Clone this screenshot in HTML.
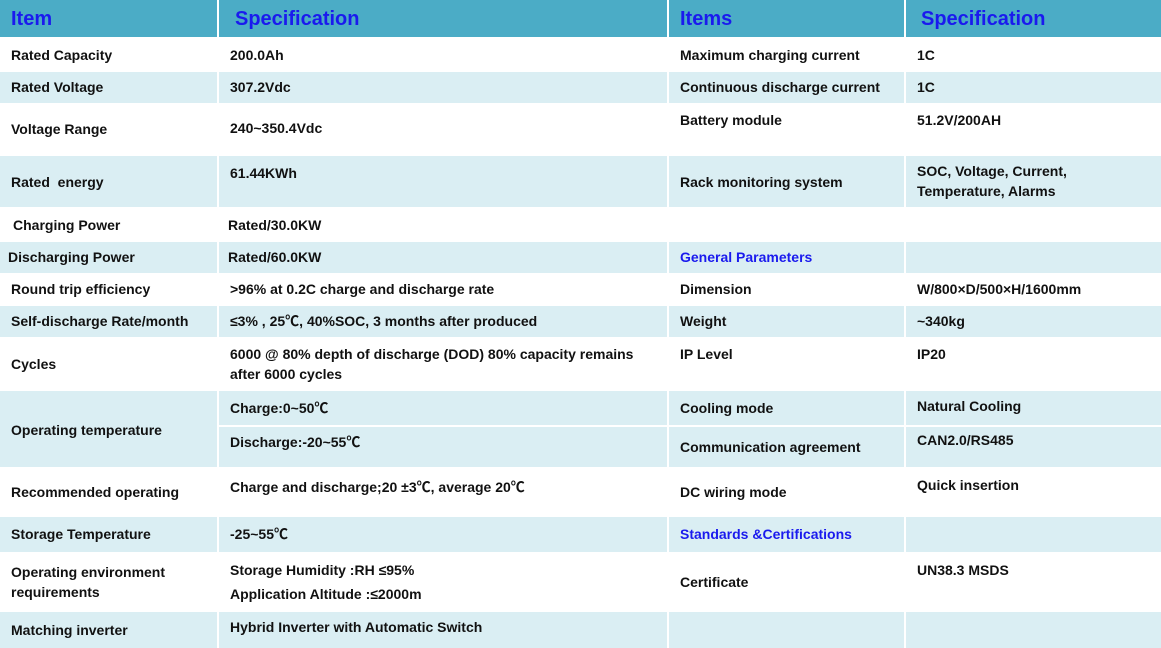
<!DOCTYPE html><html><head><meta charset="utf-8"><style>
body{margin:0;width:1161px;height:648px;background:#fff;position:relative;overflow:hidden;font-family:"Liberation Sans","Noto Sans CJK SC",sans-serif}
.r{position:absolute}
.t{position:absolute;font-weight:bold;font-size:14px;color:#111;white-space:nowrap;line-height:16px}
.h{position:absolute;font-weight:bold;font-size:20px;color:#1a1aee;line-height:24px}
.b{color:#1a1aee}
</style></head><body>
<div id="bg"></div>
<script>
var cols=[[0,217],[219,448],[669,235],[906,255]];
var rows=[[0,37,'#4bacc6'],[38,33,'#fff'],[72,31,'#daeef3'],[104,51,'#fff'],[156,51,'#daeef3'],[208,33,'#fff'],[242,31,'#daeef3'],[274,31,'#fff'],[306,31,'#daeef3'],[338,52,'#fff'],[391,76,'#daeef3'],[468,48,'#fff'],[517,35,'#daeef3'],[553,58,'#fff'],[612,36,'#daeef3']];
var h='';
rows.forEach(function(r,i){cols.forEach(function(c,j){
 if(i==10&&j>0){h+='<div class="r" style="left:'+c[0]+'px;top:391px;width:'+c[1]+'px;height:34px;background:#daeef3"></div><div class="r" style="left:'+c[0]+'px;top:427px;width:'+c[1]+'px;height:40px;background:#daeef3"></div>';}
 else h+='<div class="r" style="left:'+c[0]+'px;top:'+r[0]+'px;width:'+c[1]+'px;height:'+r[1]+'px;background:'+r[2]+'"></div>';});});
document.getElementById('bg').innerHTML=h;
</script>
<div class="h" style="left:11px;top:7px">Item</div>
<div class="h" style="left:235px;top:7px">Specification</div>
<div class="h" style="left:680px;top:7px">Items</div>
<div class="h" style="left:921px;top:7px">Specification</div>

<div class="t" style="left:11px;top:47px">Rated Capacity</div>
<div class="t" style="left:230px;top:47px">200.0Ah</div>
<div class="t" style="left:680px;top:47px">Maximum charging current</div>
<div class="t" style="left:917px;top:47px">1C</div>

<div class="t" style="left:11px;top:79px">Rated Voltage</div>
<div class="t" style="left:230px;top:79px">307.2Vdc</div>
<div class="t" style="left:680px;top:79px">Continuous discharge current</div>
<div class="t" style="left:917px;top:79px">1C</div>

<div class="t" style="left:11px;top:121px">Voltage Range</div>
<div class="t" style="left:230px;top:120px">240~350.4Vdc</div>
<div class="t" style="left:680px;top:112px">Battery module</div>
<div class="t" style="left:917px;top:112px">51.2V/200AH</div>

<div class="t" style="left:11px;top:174px">Rated&nbsp; energy</div>
<div class="t" style="left:230px;top:165px">61.44KWh</div>
<div class="t" style="left:680px;top:174px">Rack monitoring system</div>
<div class="t" style="left:917px;top:163px">SOC, Voltage, Current,</div>
<div class="t" style="left:917px;top:183px">Temperature, Alarms</div>

<div class="t" style="left:13px;top:217px">Charging Power</div>
<div class="t" style="left:228px;top:217px">Rated/30.0KW</div>

<div class="t" style="left:8px;top:249px">Discharging Power</div>
<div class="t" style="left:228px;top:249px">Rated/60.0KW</div>
<div class="t b" style="left:680px;top:249px">General Parameters</div>

<div class="t" style="left:11px;top:281px">Round trip efficiency</div>
<div class="t" style="left:230px;top:281px">&gt;96% at 0.2C charge and discharge rate</div>
<div class="t" style="left:680px;top:281px">Dimension</div>
<div class="t" style="left:917px;top:281px">W/800×D/500×H/1600mm</div>

<div class="t" style="left:11px;top:313px">Self-discharge Rate/month</div>
<div class="t" style="left:230px;top:313px">≤3% , 25℃, 40%SOC, 3 months after produced</div>
<div class="t" style="left:680px;top:313px">Weight</div>
<div class="t" style="left:917px;top:313px">~340kg</div>

<div class="t" style="left:11px;top:356px">Cycles</div>
<div class="t" style="left:230px;top:346px">6000 @ 80% depth of discharge (DOD) 80% capacity remains</div>
<div class="t" style="left:230px;top:366px">after 6000 cycles</div>
<div class="t" style="left:680px;top:346px">IP Level</div>
<div class="t" style="left:917px;top:346px">IP20</div>

<div class="t" style="left:11px;top:422px">Operating temperature</div>
<div class="t" style="left:230px;top:400px">Charge:0~50℃</div>
<div class="t" style="left:230px;top:434px">Discharge:-20~55℃</div>
<div class="t" style="left:680px;top:400px">Cooling mode</div>
<div class="t" style="left:680px;top:439px">Communication agreement</div>
<div class="t" style="left:917px;top:398px">Natural Cooling</div>
<div class="t" style="left:917px;top:432px">CAN2.0/RS485</div>

<div class="t" style="left:11px;top:484px">Recommended operating</div>
<div class="t" style="left:230px;top:479px">Charge and discharge;20 ±3℃, average 20℃</div>
<div class="t" style="left:680px;top:484px">DC wiring mode</div>
<div class="t" style="left:917px;top:477px">Quick insertion</div>

<div class="t" style="left:11px;top:526px">Storage Temperature</div>
<div class="t" style="left:230px;top:526px">-25~55℃</div>
<div class="t b" style="left:680px;top:526px">Standards &amp;Certifications</div>

<div class="t" style="left:11px;top:564px">Operating environment</div>
<div class="t" style="left:11px;top:584px">requirements</div>
<div class="t" style="left:230px;top:562px">Storage Humidity :RH ≤95%</div>
<div class="t" style="left:230px;top:586px">Application Altitude :≤2000m</div>
<div class="t" style="left:680px;top:574px">Certificate</div>
<div class="t" style="left:917px;top:562px">UN38.3 MSDS</div>

<div class="t" style="left:11px;top:622px">Matching inverter</div>
<div class="t" style="left:230px;top:619px">Hybrid Inverter with Automatic Switch</div>
</body></html>
